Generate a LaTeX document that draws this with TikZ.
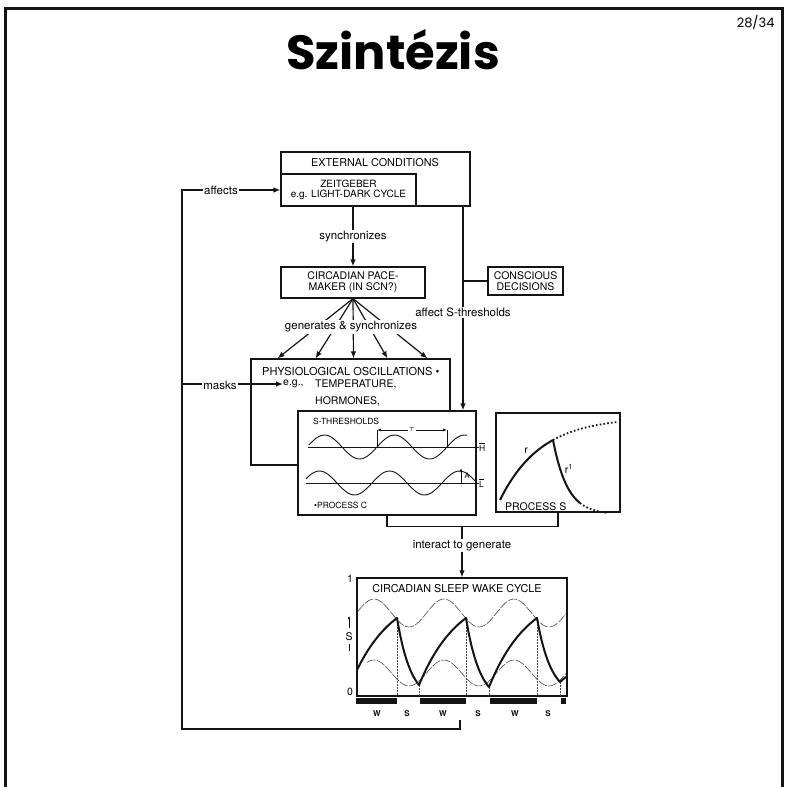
\documentclass[tikz,border=0pt]{standalone}
\usepackage{fontspec}
\setmainfont{TeX Gyre Heros}
\newfontfamily\cimbetu{Poppins}
\usetikzlibrary{arrows.meta,positioning,calc}
\definecolor{fekete}{HTML}{141414}
\definecolor{szurke}{HTML}{4A4A4A}
% exponencialis szakasz: x0, y0, x1, y1, L, stilus
\newcommand{\szakasz}[6]{%
  \draw[#6] plot[domain=#1:#3,samples=30] (\x,{#2+(#4-#2)*(1-exp(-(\x-#1)/#5))/(1-exp(-(#3-#1)/#5))});}
% hullam: x0, x1, kozep, amplitudo, fazis, stilus
\newcommand{\hullam}[6]{%
  \draw[#6] plot[domain=#1:#2,samples=80,smooth] (\x,{#3-#4*sin((\x-#5)/70*360)});}

\begin{document}
\begin{tikzpicture}[x=1pt,y=-1pt,
  doboz/.style={draw=fekete,line width=1.2pt,fill=white,inner sep=0pt,align=center,
    font=\fontsize{10.5}{11}\selectfont},
  felirat/.style={fill=white,inner sep=1.5pt,font=\fontsize{11.5}{12}\selectfont},
  betu/.style={inner sep=0pt,font=\fontsize{10.5}{11}\selectfont},
  nyil/.style={draw=fekete,line width=1.2pt,-{Latex[length=7pt,width=5.5pt]}},
  vonal/.style={draw=fekete,line width=1.2pt}]
  \useasboundingbox (0,0) rectangle (787,787);
  % keret
  \draw[line width=3pt,fekete] (5.5,790) -- (5.5,8.5) -- (782.5,8.5) -- (782.5,790);
  \node[font=\cimbetu\bfseries\fontsize{48}{50}\selectfont] (cim) at (393,50) {Szintézis};
  \node[font=\cimbetu\fontsize{13}{14}\selectfont,anchor=east] (oldal) at (778,22) {28/34};
  % dobozok
  \node[doboz,minimum width=189pt,minimum height=54pt] (kulso) at (375.5,179) {};
  \node[betu,font=\fontsize{10.8}{11}\selectfont] (kulsofel) at (375,163) {EXTERNAL CONDITIONS};
  \node[doboz,font=\fontsize{10}{10.5}\selectfont,minimum width=135pt,minimum height=32pt] (zeit) at (348.5,190) {ZEITGEBER\\e.g. LIGHT-DARK CYCLE};
  \node[doboz,minimum width=144pt,minimum height=31pt] (pace) at (353,282.5) {CIRCADIAN PACE-\\MAKER (IN SCN?)};
  \node[doboz,minimum width=75pt,minimum height=28pt] (tudatos) at (525.5,281) {CONSCIOUS\\DECISIONS};
  \node[doboz,minimum width=199pt,minimum height=106pt] (fiz) at (350.5,412) {};
  \node[betu,anchor=west,font=\fontsize{11}{12}\selectfont] (fizfel) at (262,371) {PHYSIOLOGICAL OSCILLATIONS \textbullet};
  \node[betu,anchor=west] (eg) at (283,384) {e.g.,};
  \node[betu,anchor=west] (homer) at (315,384) {TEMPERATURE,};
  \node[betu,anchor=west] (hormon) at (315,401) {HORMONES,};
  \node[doboz,minimum width=178pt,minimum height=104pt] (kuszob) at (387,463) {};
  \node[doboz,minimum width=124pt,minimum height=99pt] (procs) at (558,462.5) {};
  \node[doboz,minimum width=210pt,minimum height=118pt] (ciklus) at (462,637) {};
  % nyilak
  \draw[nyil] (pace.north |- zeit.south) -- node[felirat] {synchronizes} (pace.north);
  \foreach \d in {-73,-35,3,37,77} \draw[nyil] (pace.south) -- ([xshift=\d pt]fiz.north);
  \node[felirat] (gen) at (351,327) {generates \& synchronizes};
  \coordinate (jobb) at ([xshift=87.5pt]kulso.south);
  \draw[vonal] (tudatos.west) -- (tudatos.west -| jobb);
  \draw[nyil] (jobb) -- node[felirat,pos=0.52] {affect S-thresholds} (jobb |- kuszob.north);
  \coordinate (talal) at ($(kuszob.south)+(0,11)$);
  \draw[vonal] (kuszob.south) -- (talal) -| (procs.south);
  \draw[nyil] (talal -| ciklus.north) -- node[felirat,pos=0.37] {interact to generate} (ciklus.north);
  % visszacsatolas
  \coordinate (vissza) at (460,720);
  \coordinate (bal) at (182,729);
  \draw[nyil] (vissza) |- (bal) |- (zeit.west);
  \node[felirat] (hat) at (221,190) {affects};
  \draw[nyil] (bal |- eg.west) -- (eg.west);
  \node[felirat] (maszk) at (220,385) {masks};
  % S-kuszobok
  \node[betu,anchor=west,font=\fontsize{8.5}{9}\selectfont] (kfel) at (313,421) {S-THRESHOLDS};
  \draw[fekete,line width=0.9pt] (308,447) -- (479,447);
  \draw[fekete,line width=0.9pt] (306,483) -- (479,483);
  \node[betu,anchor=west,font=\fontsize{8.5}{9}\selectfont] (hfel) at (479,447) {$\overline{\mbox{H}}$};
  \node[betu,anchor=west,font=\fontsize{8.5}{9}\selectfont] (lfel) at (479,483) {$\overline{\mbox{L}}$};
  \hullam{309}{467}{447}{12}{377}{fekete,line width=0.9pt}
  \hullam{306}{475}{483}{12}{372}{fekete,line width=0.9pt}
  \draw[fekete,line width=0.8pt] (377,447) -- (377,430) (447,447) -- (447,430);
  \draw[fekete,line width=0.8pt,{Latex[length=4pt,width=3pt]}-{Latex[length=4pt,width=3pt]}]
    (377,430) -- node[fill=white,inner sep=1pt,font=\fontsize{9}{9}\selectfont] {$\tau$} (447,430);
  \draw[fekete,line width=0.8pt,-{Latex[length=4pt,width=3pt]}] (461,483) -- (461,468);
  \node[betu,font=\fontsize{7.5}{7.5}\selectfont] (afel) at (467,476) {A};
  \node[betu,anchor=west,font=\fontsize{8.5}{9}\selectfont] (cfel) at (314,505) {\textbullet PROCESS C};
  % S folyamat
  \draw[fekete,line width=2pt] plot[domain=500:553,samples=30] (\x,{500-82.7*(1-exp(-(\x-500)/41))});
  \draw[fekete,line width=1.8pt,dash pattern=on 1.6pt off 2.2pt] plot[domain=553:617,samples=30] (\x,{500-82.7*(1-exp(-(\x-500)/41))});
  \draw[fekete,line width=2pt] plot[domain=553:580,samples=30] (\x,{440+74.6*(1-exp(-(\x-553)/14.5))});
  \draw[fekete,line width=1.8pt,dash pattern=on 1.6pt off 2.2pt] plot[domain=580:607,samples=20] (\x,{440+74.6*(1-exp(-(\x-553)/14.5))});
  \node[betu] (rfel) at (526,451) {r};
  \node[betu] (r1fel) at (569,469) {r\textsuperscript{1}};
  \node[betu,anchor=west] (sfel) at (505,507) {PROCESS S};
  % alvas-ebrenlet ciklus
  \node[betu,font=\fontsize{10.8}{11}\selectfont] (cikfel) at (457,589) {CIRCADIAN SLEEP WAKE CYCLE};
  \hullam{358}{566}{613}{14}{356.5}{szurke,line width=0.6pt,dash pattern=on 9pt off 1.5pt}
  \hullam{367}{566}{673}{13}{356.5}{szurke,line width=0.6pt,dash pattern=on 9pt off 1.5pt}
  \foreach \a/\b in {397/618,419/685,466/618,489/687,537/618,560/682}
    \draw[szurke,line width=0.5pt,dash pattern=on 2pt off 1pt] (\a,\b) -- (\a,696);
  \szakasz{357}{670}{397}{618}{40}{fekete,line width=2pt,line cap=round}
  \szakasz{397}{618}{419}{685}{14}{fekete,line width=2pt,line cap=round}
  \szakasz{419}{685}{466}{618}{40}{fekete,line width=2pt,line cap=round}
  \szakasz{466}{618}{489}{687}{14}{fekete,line width=2pt,line cap=round}
  \szakasz{489}{687}{537}{618}{40}{fekete,line width=2pt,line cap=round}
  \szakasz{537}{618}{560}{682}{14}{fekete,line width=2pt,line cap=round}
  \szakasz{560}{682}{566}{677}{40}{fekete,line width=2pt,line cap=round}
  \foreach \a/\b in {356/397,420/466,490/537,561/566}
    \fill[fekete] (\a,698) rectangle (\b,704);
  \foreach \a/\t in {377/W,407/S,443/W,478/S,515/W,548/S}
    \node[betu,font=\bfseries\fontsize{8}{8}\selectfont] (ws\a) at (\a,714) {\t};
  \node[betu] (egy) at (350,579) {1};
  \node[betu] (nulla) at (350,692) {0};
  \draw[fekete,line width=0.8pt,-{Latex[length=3pt,width=3pt]}] (349,628) -- (349,616);
  \node[betu] (sbetu) at (349,637) {S};
  \draw[fekete,line width=0.8pt] (349,644) -- (349,651);
\end{tikzpicture}
\end{document}
